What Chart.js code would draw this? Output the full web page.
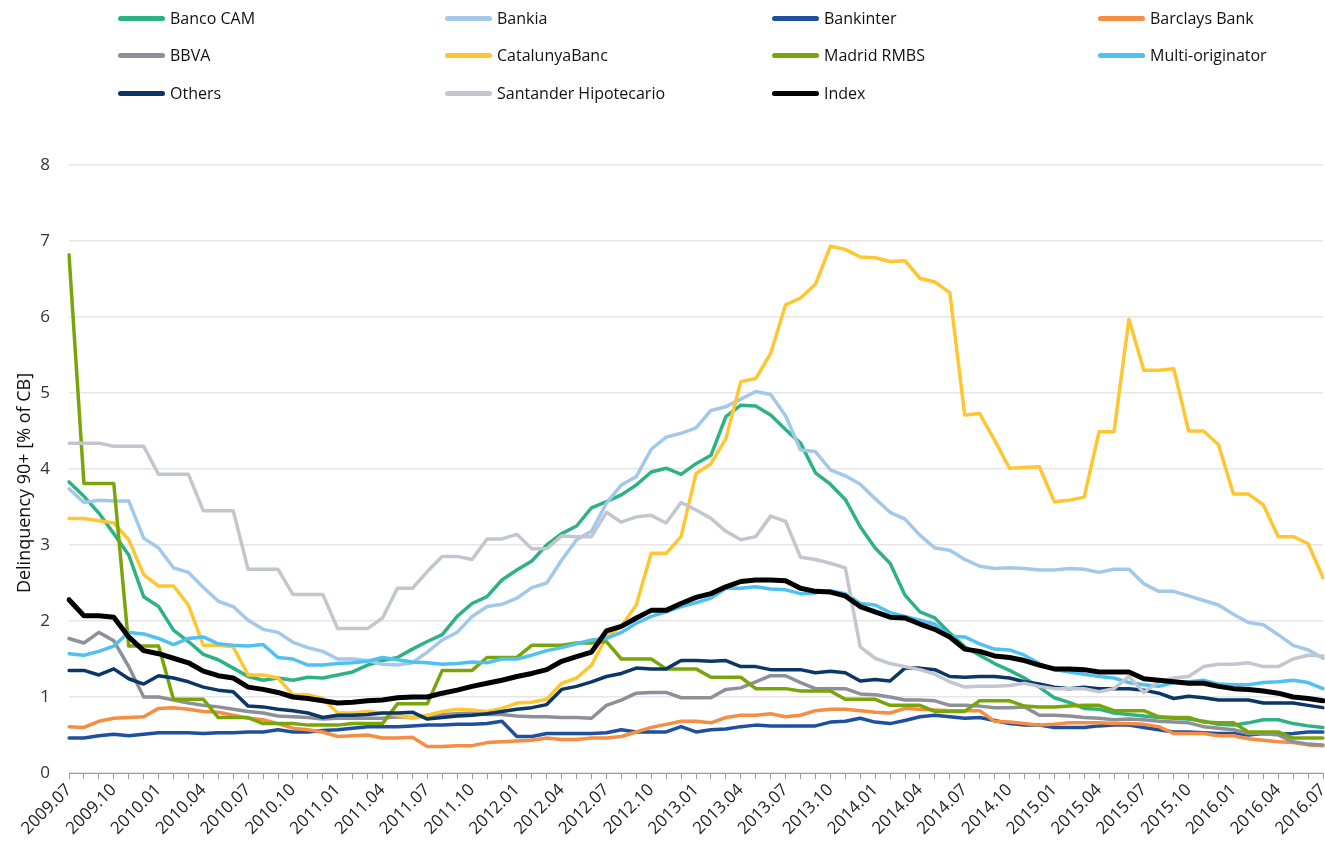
<!DOCTYPE html>
<html>
<head>
<meta charset="utf-8">
<script src="https://cdn.jsdelivr.net/npm/chart.js@4.4.1/dist/chart.umd.min.js"></script>
<style>
  html, body { margin: 0; padding: 0; background: #fff; }
  #wrap { position: relative; width: 1325px; height: 844px; }
  #legend { position: absolute; left: 0; top: 0; width: 1325px; height: 110px;
            font-family: "Open Sans", sans-serif; font-size: 16px; color: #111; }
  .item { position: absolute; display: flex; align-items: center; white-space: nowrap; }
  .swatch { width: 47px; height: 5px; border-radius: 3px; margin-right: 5px; }
  canvas { position: absolute; left: 0; top: 0; }
</style>
</head>
<body>
<div id="wrap">
  <canvas id="chart" width="1325" height="844"></canvas>
  <div id="legend"></div>
</div>
<script>
// months 2009.07 .. 2016.07
const labels = [];
for (let y = 2009, m = 7; ; m++) {
  if (m > 12) { m = 1; y++; }
  if (y === 2016 && m > 7) break;
  labels.push(y + "." + String(m).padStart(2, "0"));
}

const seriesNames = ["Banco CAM", "Bankia", "Bankinter", "Barclays Bank", "BBVA", "CatalunyaBanc",
  "Madrid RMBS", "Multi-originator", "Others", "Santander Hipotecario", "Index"];
const seriesColors = ["#2fb186", "#a2c8ea", "#1f4f9f", "#f58d42", "#8e9099", "#fec630",
  "#7aa50a", "#4fc1f1", "#0b3767", "#c3c6cf", "#000000"];

const bancoCam = [3.83, 3.64, 3.42, 3.15, 2.87, 2.32, 2.19, 1.88, 1.73, 1.56, 1.49, 1.38, 1.27, 1.22, 1.25, 1.22, 1.26, 1.25, 1.29, 1.33, 1.42, 1.48, 1.52, 1.63, 1.73, 1.82, 2.06, 2.23, 2.32, 2.54, 2.67, 2.79, 3.00, 3.15, 3.25, 3.49, 3.57, 3.66, 3.79, 3.96, 4.01, 3.93, 4.07, 4.18, 4.69, 4.84, 4.83, 4.71, 4.52, 4.34, 3.95, 3.80, 3.60, 3.24, 2.96, 2.76, 2.34, 2.12, 2.04, 1.84, 1.66, 1.55, 1.44, 1.35, 1.25, 1.13, 0.99, 0.93, 0.85, 0.84, 0.79, 0.77, 0.75, 0.73, 0.72, 0.71, 0.68, 0.64, 0.63, 0.66, 0.70, 0.70, 0.65, 0.62, 0.60];
const bankia = [3.74, 3.56, 3.59, 3.58, 3.58, 3.09, 2.96, 2.70, 2.64, 2.44, 2.26, 2.19, 2.01, 1.89, 1.85, 1.72, 1.65, 1.60, 1.50, 1.50, 1.48, 1.43, 1.42, 1.45, 1.59, 1.75, 1.85, 2.06, 2.19, 2.22, 2.30, 2.44, 2.50, 2.80, 3.07, 3.18, 3.55, 3.79, 3.90, 4.26, 4.42, 4.47, 4.54, 4.77, 4.82, 4.92, 5.02, 4.98, 4.70, 4.25, 4.23, 3.99, 3.91, 3.80, 3.61, 3.43, 3.34, 3.13, 2.96, 2.93, 2.81, 2.72, 2.69, 2.70, 2.69, 2.67, 2.67, 2.69, 2.68, 2.64, 2.68, 2.68, 2.49, 2.39, 2.39, 2.33, 2.27, 2.21, 2.09, 1.98, 1.95, 1.82, 1.68, 1.62, 1.51];
const bankinter = [0.46, 0.46, 0.49, 0.51, 0.49, 0.51, 0.53, 0.53, 0.53, 0.52, 0.53, 0.53, 0.54, 0.54, 0.57, 0.54, 0.54, 0.56, 0.57, 0.59, 0.61, 0.61, 0.61, 0.62, 0.63, 0.63, 0.64, 0.64, 0.65, 0.68, 0.48, 0.48, 0.52, 0.52, 0.52, 0.52, 0.53, 0.57, 0.54, 0.54, 0.54, 0.61, 0.54, 0.57, 0.58, 0.61, 0.63, 0.62, 0.62, 0.62, 0.62, 0.67, 0.68, 0.72, 0.67, 0.65, 0.69, 0.74, 0.76, 0.74, 0.72, 0.73, 0.69, 0.65, 0.63, 0.63, 0.60, 0.60, 0.60, 0.62, 0.63, 0.63, 0.60, 0.57, 0.54, 0.54, 0.53, 0.52, 0.52, 0.50, 0.52, 0.51, 0.52, 0.54, 0.54];
const barclays = [0.61, 0.60, 0.68, 0.72, 0.73, 0.74, 0.85, 0.86, 0.84, 0.81, 0.80, 0.76, 0.72, 0.70, 0.65, 0.59, 0.57, 0.54, 0.48, 0.49, 0.50, 0.46, 0.46, 0.47, 0.35, 0.35, 0.36, 0.36, 0.40, 0.41, 0.42, 0.43, 0.46, 0.44, 0.44, 0.46, 0.46, 0.48, 0.54, 0.60, 0.64, 0.68, 0.68, 0.66, 0.73, 0.76, 0.76, 0.78, 0.74, 0.76, 0.82, 0.84, 0.84, 0.82, 0.80, 0.79, 0.85, 0.84, 0.83, 0.82, 0.82, 0.82, 0.68, 0.67, 0.65, 0.63, 0.64, 0.66, 0.66, 0.66, 0.65, 0.65, 0.64, 0.61, 0.52, 0.52, 0.52, 0.49, 0.49, 0.45, 0.43, 0.41, 0.40, 0.37, 0.36];
const bbva = [1.77, 1.71, 1.85, 1.74, 1.40, 1.00, 1.00, 0.96, 0.92, 0.89, 0.87, 0.84, 0.81, 0.79, 0.75, 0.74, 0.73, 0.71, 0.72, 0.72, 0.72, 0.72, 0.74, 0.73, 0.75, 0.77, 0.78, 0.79, 0.77, 0.77, 0.75, 0.74, 0.74, 0.73, 0.73, 0.72, 0.89, 0.96, 1.05, 1.06, 1.06, 0.99, 0.99, 0.99, 1.10, 1.12, 1.20, 1.28, 1.28, 1.19, 1.11, 1.11, 1.11, 1.04, 1.03, 1.00, 0.96, 0.96, 0.95, 0.89, 0.89, 0.88, 0.86, 0.86, 0.87, 0.76, 0.76, 0.75, 0.73, 0.72, 0.70, 0.71, 0.70, 0.68, 0.67, 0.66, 0.61, 0.59, 0.57, 0.52, 0.52, 0.50, 0.41, 0.38, 0.37];
const catalunyaBanc = [3.35, 3.35, 3.32, 3.29, 3.07, 2.61, 2.46, 2.46, 2.21, 1.68, 1.68, 1.66, 1.29, 1.29, 1.25, 1.03, 1.03, 0.98, 0.79, 0.79, 0.81, 0.79, 0.76, 0.72, 0.76, 0.81, 0.84, 0.83, 0.81, 0.85, 0.92, 0.93, 0.97, 1.18, 1.25, 1.42, 1.79, 1.93, 2.21, 2.89, 2.89, 3.11, 3.94, 4.07, 4.40, 5.15, 5.19, 5.52, 6.16, 6.25, 6.43, 6.93, 6.89, 6.79, 6.78, 6.73, 6.74, 6.51, 6.46, 6.32, 4.71, 4.73, 4.38, 4.01, 4.02, 4.03, 3.57, 3.59, 3.63, 4.49, 4.49, 5.97, 5.30, 5.30, 5.32, 4.50, 4.50, 4.32, 3.67, 3.67, 3.53, 3.11, 3.11, 3.02, 2.57];
const madridRmbs = [6.82, 3.81, 3.81, 3.81, 1.67, 1.67, 1.67, 0.97, 0.97, 0.97, 0.73, 0.73, 0.73, 0.65, 0.65, 0.65, 0.63, 0.63, 0.63, 0.65, 0.65, 0.65, 0.91, 0.91, 0.91, 1.35, 1.35, 1.35, 1.52, 1.52, 1.52, 1.68, 1.68, 1.68, 1.71, 1.71, 1.73, 1.50, 1.50, 1.50, 1.37, 1.37, 1.37, 1.26, 1.26, 1.26, 1.11, 1.11, 1.11, 1.08, 1.08, 1.08, 0.97, 0.97, 0.97, 0.89, 0.89, 0.89, 0.81, 0.81, 0.81, 0.95, 0.95, 0.95, 0.88, 0.87, 0.87, 0.88, 0.89, 0.89, 0.82, 0.82, 0.82, 0.74, 0.73, 0.73, 0.67, 0.66, 0.66, 0.54, 0.54, 0.54, 0.46, 0.46, 0.46];
const multiOriginator = [1.57, 1.55, 1.60, 1.67, 1.85, 1.83, 1.77, 1.69, 1.77, 1.79, 1.70, 1.68, 1.67, 1.69, 1.52, 1.50, 1.42, 1.42, 1.44, 1.45, 1.47, 1.52, 1.49, 1.46, 1.45, 1.43, 1.44, 1.46, 1.45, 1.50, 1.50, 1.55, 1.61, 1.65, 1.70, 1.75, 1.77, 1.85, 1.97, 2.06, 2.12, 2.19, 2.24, 2.30, 2.43, 2.43, 2.45, 2.42, 2.41, 2.36, 2.37, 2.40, 2.36, 2.23, 2.21, 2.11, 2.06, 2.01, 1.96, 1.80, 1.79, 1.70, 1.63, 1.62, 1.55, 1.44, 1.36, 1.33, 1.30, 1.27, 1.25, 1.19, 1.16, 1.14, 1.19, 1.20, 1.22, 1.17, 1.16, 1.16, 1.19, 1.20, 1.22, 1.19, 1.11];
const others = [1.35, 1.35, 1.29, 1.37, 1.24, 1.17, 1.28, 1.25, 1.20, 1.13, 1.09, 1.07, 0.88, 0.87, 0.84, 0.82, 0.79, 0.73, 0.76, 0.76, 0.77, 0.79, 0.79, 0.80, 0.71, 0.73, 0.75, 0.76, 0.78, 0.81, 0.84, 0.86, 0.90, 1.10, 1.14, 1.20, 1.27, 1.31, 1.38, 1.37, 1.37, 1.48, 1.48, 1.47, 1.48, 1.40, 1.40, 1.36, 1.36, 1.36, 1.32, 1.34, 1.32, 1.21, 1.23, 1.21, 1.38, 1.38, 1.36, 1.27, 1.26, 1.27, 1.27, 1.25, 1.20, 1.17, 1.13, 1.11, 1.13, 1.11, 1.11, 1.11, 1.09, 1.05, 0.98, 1.01, 0.99, 0.96, 0.96, 0.96, 0.92, 0.92, 0.92, 0.89, 0.86];
const santander = [4.34, 4.34, 4.34, 4.30, 4.30, 4.30, 3.93, 3.93, 3.93, 3.45, 3.45, 3.45, 2.68, 2.68, 2.68, 2.35, 2.35, 2.35, 1.90, 1.90, 1.90, 2.04, 2.43, 2.43, 2.65, 2.85, 2.85, 2.81, 3.08, 3.08, 3.14, 2.95, 2.95, 3.12, 3.11, 3.11, 3.43, 3.30, 3.37, 3.39, 3.29, 3.56, 3.46, 3.35, 3.18, 3.07, 3.11, 3.38, 3.31, 2.84, 2.81, 2.76, 2.70, 1.66, 1.51, 1.44, 1.40, 1.36, 1.30, 1.20, 1.13, 1.14, 1.14, 1.15, 1.18, 1.14, 1.11, 1.11, 1.11, 1.07, 1.11, 1.27, 1.06, 1.20, 1.25, 1.27, 1.40, 1.43, 1.43, 1.45, 1.40, 1.40, 1.50, 1.55, 1.54];
const indexSeries = [2.28, 2.07, 2.07, 2.05, 1.79, 1.61, 1.57, 1.51, 1.45, 1.34, 1.28, 1.25, 1.13, 1.10, 1.06, 1.00, 0.98, 0.95, 0.92, 0.93, 0.95, 0.96, 0.99, 1.00, 1.00, 1.05, 1.09, 1.14, 1.18, 1.22, 1.27, 1.31, 1.36, 1.47, 1.53, 1.59, 1.87, 1.93, 2.04, 2.14, 2.14, 2.23, 2.31, 2.36, 2.45, 2.52, 2.54, 2.54, 2.53, 2.43, 2.39, 2.38, 2.33, 2.19, 2.12, 2.05, 2.04, 1.96, 1.89, 1.79, 1.63, 1.60, 1.54, 1.52, 1.48, 1.42, 1.37, 1.37, 1.36, 1.33, 1.33, 1.33, 1.24, 1.22, 1.20, 1.18, 1.18, 1.14, 1.11, 1.10, 1.08, 1.05, 1.00, 0.98, 0.95];

const seriesData = [bancoCam, bankia, bankinter, barclays, bbva, catalunyaBanc,
  madridRmbs, multiOriginator, others, santander, indexSeries];

const yTicks = [0, 1, 2, 3, 4, 5, 6, 7, 8];
const yTitle = "Delinquency 90+ [% of CB]";

const FONT = '"Open Sans", sans-serif';
const n = seriesNames.length;

const datasets = seriesNames.map((name, i) => ({
  label: name,
  data: seriesData[i],
  borderColor: seriesColors[i],
  backgroundColor: seriesColors[i],
  borderWidth: name === "Index" ? 5 : 3.5,
  pointRadius: 0,
  tension: 0,
  borderJoinStyle: "round",
  borderCapStyle: "round",
  fill: false,
  order: n - 1 - i, // later series on top, like the original
}));

// legend grid: 4 columns x 3 rows
const legendEl = document.getElementById("legend");
const colX = [118, 445, 772, 1098];
const rowY = [18, 55, 93];
seriesNames.forEach((name, i) => {
  const item = document.createElement("div");
  item.className = "item";
  item.style.left = colX[i % 4] + "px";
  item.style.top = (rowY[Math.floor(i / 4)] - 11) + "px";
  item.style.height = "22px";
  const sw = document.createElement("span");
  sw.className = "swatch";
  sw.style.background = seriesColors[i];
  const tx = document.createElement("span");
  tx.textContent = name;
  item.appendChild(sw);
  item.appendChild(tx);
  legendEl.appendChild(item);
});

// y title sits a bit below the plot middle in the original
const yTitlePlugin = {
  id: "yTitle",
  afterDraw(chart) {
    const ctx = chart.ctx;
    ctx.save();
    ctx.translate(25, 483);
    ctx.rotate(-Math.PI / 2);
    ctx.font = '18px ' + FONT;
    ctx.fillStyle = "#111";
    ctx.textAlign = "center";
    ctx.textBaseline = "middle";
    ctx.fillText(yTitle, 0, 0);
    ctx.restore();
  },
};

new Chart(document.getElementById("chart"), {
  type: "line",
  data: { labels, datasets },
  plugins: [yTitlePlugin],
  options: {
    responsive: false,
    animation: false,
    layout: { padding: { top: 165, left: 0, right: 2, bottom: 0 } },
    plugins: { legend: { display: false }, tooltip: { enabled: false } },
    scales: {
      x: {
        grid: { display: true, drawOnChartArea: false, drawTicks: true, tickLength: 6, color: "#9a9a9a" },
        border: { display: true, color: "#9a9a9a", width: 1 },
        ticks: {
          autoSkip: false, maxRotation: 45, minRotation: 45, padding: 1,
          color: "#222", font: { family: FONT, size: 17 },
          callback: (v, i) => (i % 3 === 0 ? labels[i] : ""),
        },
        afterFit: (s) => { s.height = 71; s.paddingLeft = 0; s.paddingRight = 0; },
      },
      y: {
        min: 0, max: 8,
        afterBuildTicks: (s) => { s.ticks = yTicks.map((v) => ({ value: v })); },
        grid: { color: "#e6e6e6", lineWidth: 1.5, drawTicks: false },
        border: { display: false },
        ticks: { padding: 19, color: "#333", font: { family: FONT, size: 17 } },
        afterFit: (s) => { s.width = 69; },
      },
    },
  },
});
</script>
</body>
</html>
